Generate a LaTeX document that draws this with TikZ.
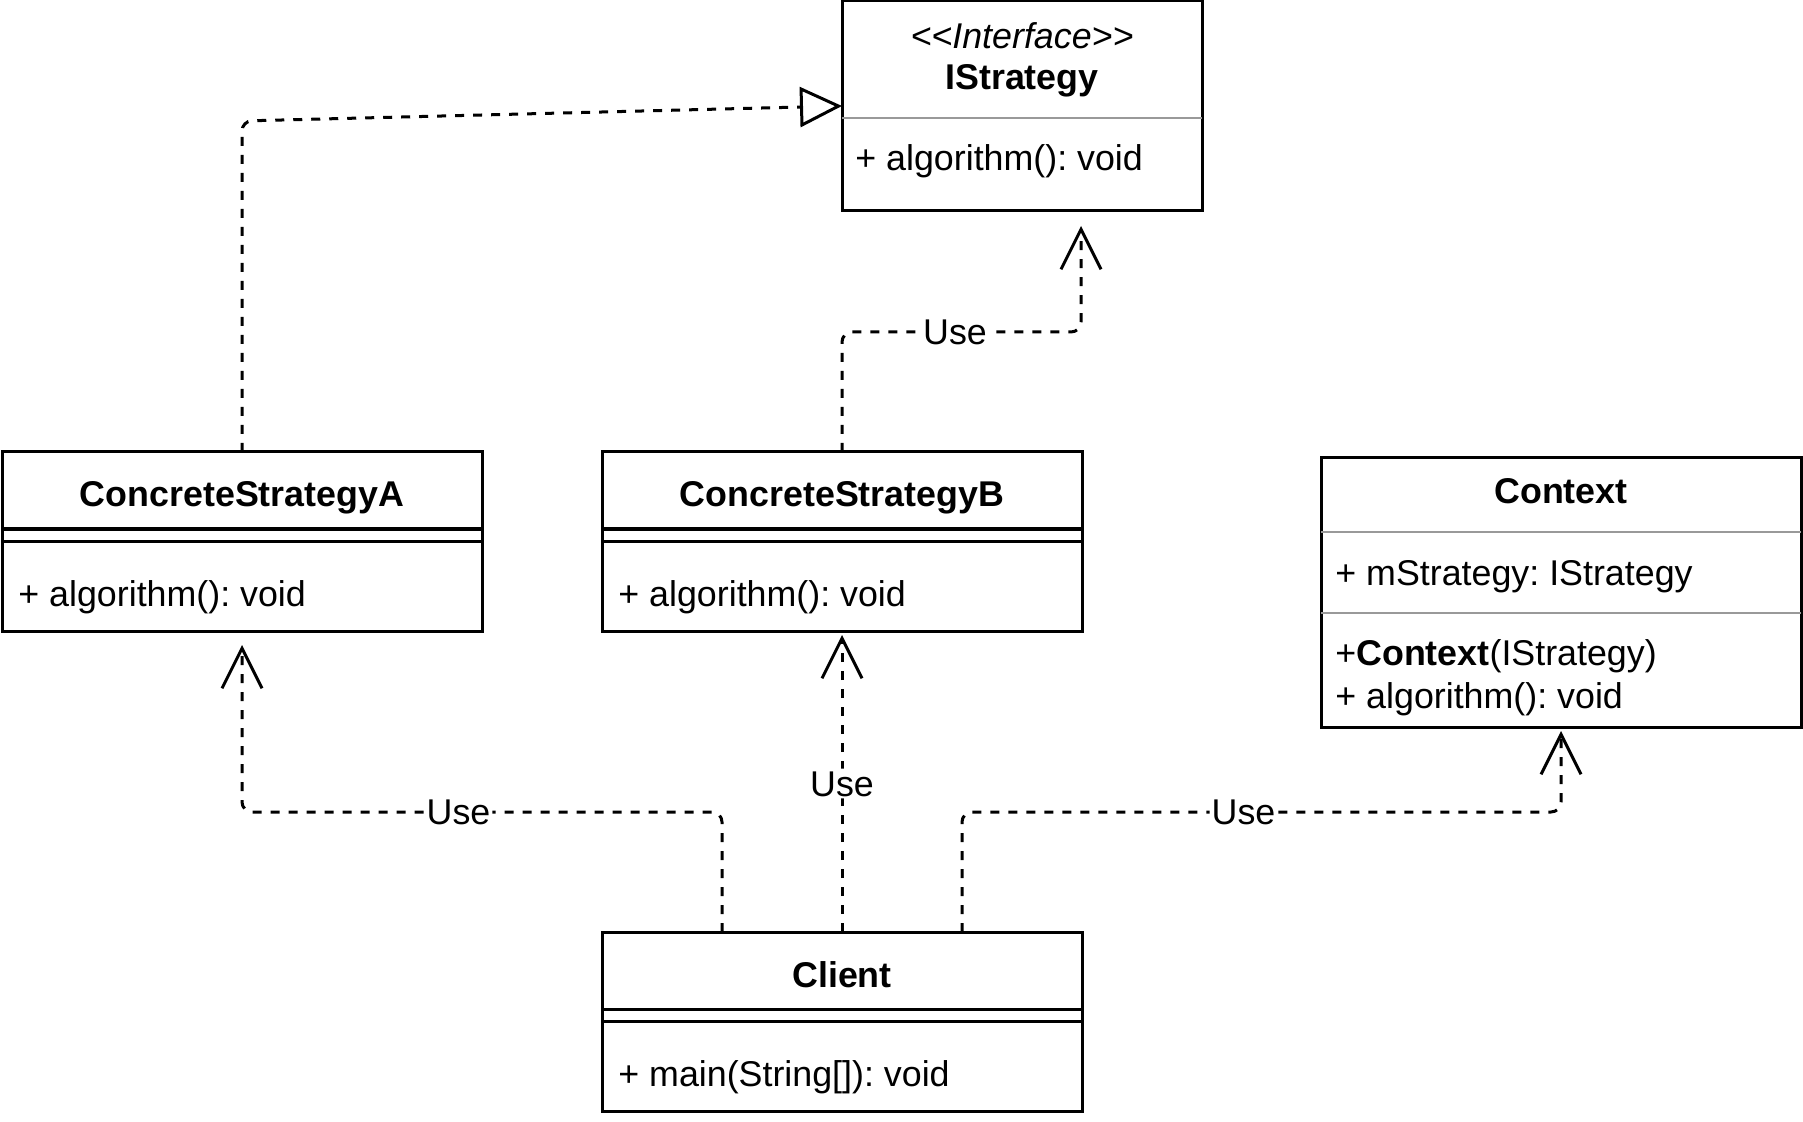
\documentclass[tikz,border=0pt]{standalone}
\usepackage{fontspec}
\setmainfont{Liberation Sans}
\usetikzlibrary{arrows.meta,calc}
\definecolor{sepgray}{HTML}{999999}
\frenchspacing
\begin{document}
\frenchspacing
\begin{tikzpicture}[x=0.5pt,y=-0.5pt,
  every node/.style={font=\fontsize{17.9}{21.4}\selectfont},
  cls/.style={draw, line width=1.5pt, inner sep=0pt, outer sep=0pt, fill=white},
  sep/.style={line width=1.5pt},
  gsep/.style={line width=1.2pt, draw=sepgray},
  txt/.style={anchor=base west, inner sep=0pt},
  ctr/.style={anchor=base, inner sep=0pt},
  ttl/.style={anchor=base, inner sep=0pt, font=\fontsize{17.9}{21.4}\selectfont\bfseries},
  dep/.style={line width=1.5pt, dash pattern=on 4.5pt off 4.5pt, rounded corners=5pt},
  useend/.style={-{Straight Barb[length=20pt,width=20pt]}},
  real/.style={-{Triangle[open,length=21pt,width=20pt]}},
  lbl/.style={fill=white, inner xsep=1pt, inner ysep=1pt, text height=12.8pt, text depth=0pt}
]
\useasboundingbox (0,0) rectangle (1803,1122);

% class boxes
\node[cls, minimum width=180pt, minimum height=105pt] (IS) at (1022,106) {};
\node[cls, minimum width=240pt, minimum height=89.5pt] (CA) at (242,541.5) {};
\node[cls, minimum width=240pt, minimum height=89.5pt] (CB) at (842,541.5) {};
\node[cls, minimum width=240pt, minimum height=134.5pt] (CX) at (1561,592.5) {};
\node[cls, minimum width=240pt, minimum height=89.5pt] (CL) at (842,1021.5) {};

% compartments
\draw[gsep] (IS.west |- 0,118) -- (IS.east |- 0,118);
\draw[sep] (CA.west |- 0,529) -- (CA.east |- 0,529);
\draw[sep] (CA.west |- 0,541) -- (CA.east |- 0,541);
\draw[sep] (CB.west |- 0,529) -- (CB.east |- 0,529);
\draw[sep] (CB.west |- 0,541) -- (CB.east |- 0,541);
\draw[gsep] (CX.west |- 0,532) -- (CX.east |- 0,532);
\draw[gsep] (CX.west |- 0,613) -- (CX.east |- 0,613);
\draw[sep] (CL.west |- 0,1009) -- (CL.east |- 0,1009);
\draw[sep] (CL.west |- 0,1021) -- (CL.east |- 0,1021);

% texts
\node[ctr, font=\fontsize{17.9}{21.4}\selectfont\itshape] (ISs) at (1022,49) {<\kern0pt<Interface>\kern0pt>};
\node[ttl] (ISt) at (1022,90) {IStrategy};
\node[txt] (ISm) at (855,171) {+ algorithm(): void};

\node[ttl] (CAt) at (242,507) {ConcreteStrategyA};
\node[txt] (CAm) at (18,606) {+ algorithm(): void};

\node[ttl] (CBt) at (842,507) {ConcreteStrategyB};
\node[txt] (CBm) at (618,606) {+ algorithm(): void};

\node[ttl] (CXt) at (1561,503) {Context};
\node[txt] (CXf) at (1335,585) {+ mStrategy: IStrategy};
\node[txt] (CXc) at (1335,665) {+\textbf{Context}(IStrategy)};
\node[txt] (CXm) at (1335,708) {+ algorithm(): void};

\node[ttl] (CLt) at (842,987) {Client};
\node[txt] (CLm) at (618,1086) {+ main(String[]): void};

% connector end points
\coordinate (isA) at (1081,226);
\coordinate (caA) at (242,645);
\coordinate (cbA) at (842,635);
\coordinate (cxA) at (1561,731);
\coordinate (cl1) at ($(CL.north west)!0.25!(CL.north east)$);
\coordinate (cl3) at ($(CL.north west)!0.75!(CL.north east)$);

% connectors
\draw[dep, real] (CA.north) -- (CA.north |- 0,121) -- (IS.west);
\draw[dep, useend] (CB.north) -- (CB.north |- 0,332) -- node[lbl, pos=0.473] (u1) {Use} (isA |- 0,332) -- (isA);
\draw[dep, useend] (cl1) -- (cl1 |- 0,812) -- node[lbl, pos=0.549] (u2) {Use} (caA |- 0,812) -- (caA);
\draw[dep, useend] (CL.north) -- node[lbl, pos=0.5] (u3) {Use} (cbA);
\draw[dep, useend] (cl3) -- (cl3 |- 0,812) -- node[lbl, pos=0.47] (u4) {Use} (cxA |- 0,812) -- (cxA);
\end{tikzpicture}
\end{document}
